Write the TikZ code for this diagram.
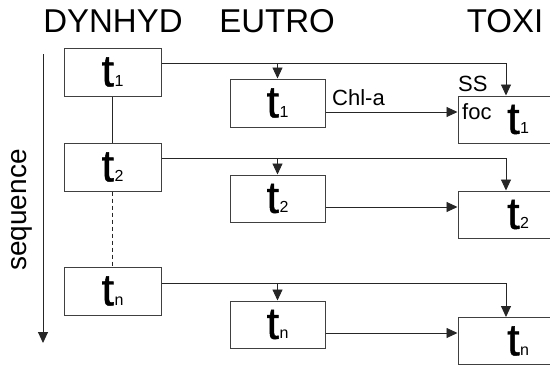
\documentclass[tikz,border=0pt]{standalone}
\usepackage{fontspec}
\setmainfont{Liberation Sans}
\newfontfamily\tfont[FakeBold=1]{Liberation Sans}
\usetikzlibrary{arrows.meta}
\newcommand{\tsub}[1]{{\tfont\fontsize{45}{45}\selectfont t}\kern0.5pt{\fontsize{16}{16}\selectfont #1}}
\begin{document}
\begin{tikzpicture}[x=1pt,y=-1pt,
  box/.style={draw=black!75,line width=1pt,minimum width=97pt,minimum height=48pt,inner sep=0pt,anchor=center},
  wide/.style={box,minimum width=120pt,minimum height=47pt},
  ln/.style={draw=black!85,line width=0.9pt},
  arr/.style={ln,-{Triangle[length=11pt,width=10pt]}},
  title/.style={font=\fontsize{33}{33}\selectfont,anchor=base,inner sep=0pt},
  lab/.style={font=\fontsize{22}{22}\selectfont,anchor=base west,inner sep=0pt}]
\useasboundingbox (0,0) rectangle (550,370);
% titles
\node[title] (tD) at (113,32) {DYNHYD};
\node[title] (tE) at (277,32) {EUTRO};
\node[title] (tT) at (505,32) {TOXI};
% sequence
\node[rotate=90,font=\fontsize{28}{28}\selectfont,inner sep=0pt] (sq) at (22,210) {sequence};
\coordinate (s0) at (43,54);
\coordinate (s1) at (43,343);
\draw[arr] (s0) -- (s1);
% DYNHYD
\node[box] (d1) at (112.5,72) {\tsub{1}};
\node[box] (d2) at (112.5,167) {\tsub{2}};
\node[box] (dn) at (112.5,291) {\tsub{n}};
% EUTRO
\node[box,minimum width=95pt,minimum height=48pt] (e1) at (277.5,103) {\tsub{1}};
\node[box,minimum width=95pt,minimum height=47pt] (e2) at (277.5,198.5) {\tsub{2}};
\node[box,minimum width=95pt,minimum height=47pt] (en) at (277.5,324.5) {\tsub{n}};
% TOXI
\node[wide] (x1) at (518,119.5) {};
\node[wide] (x2) at (518,214.5) {};
\node[wide] (xn) at (518,341) {};
\node[inner sep=0pt,anchor=west] (xt1) at (507,119.5) {\tsub{1}};
\node[inner sep=0pt,anchor=west] (xt2) at (507,214.5) {\tsub{2}};
\node[inner sep=0pt,anchor=west] (xtn) at (507,341) {\tsub{n}};
% DYNHYD verticals
\draw[ln] (d1.south) -- (d2.north);
\draw[ln,dashed,dash pattern=on 4pt off 3pt] (d2.south) -- (dn.north);
% row feeds
\coordinate (r1) at (506,63);
\coordinate (r2) at (506,158);
\coordinate (rn) at (506,283);
\draw[arr] (d1.east |- r1) -- (r1) -- (r1 |- x1.north);
\draw[arr] (e1.north |- r1) -- (e1.north);
\draw[arr] (d2.east |- r2) -- (r2) -- (r2 |- x2.north);
\draw[arr] (e2.north |- r2) -- (e2.north);
\draw[arr] (dn.east |- rn) -- (rn) -- (rn |- xn.north);
\draw[arr] (en.north |- rn) -- (en.north);
% EUTRO -> TOXI
\coordinate (a1) at ([yshift=-9pt]e1.east);
\coordinate (a2) at ([yshift=-8.5pt]e2.east);
\coordinate (an) at ([yshift=-8.5pt]en.east);
\draw[arr] (a1) -- (a1 -| x1.west);
\draw[arr] (a2) -- (a2 -| x2.west);
\draw[arr] (an) -- (an -| xn.west);
% labels
\node[lab] (chl) at (332,105) {Chl-a};
\node[lab] (ss) at (458,91) {SS};
\node[lab] (foc) at (462,119) {foc};
\end{tikzpicture}
\end{document}
